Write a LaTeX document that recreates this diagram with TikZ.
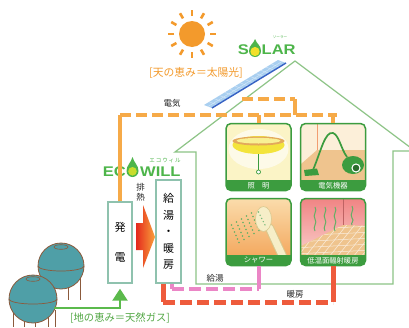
\documentclass[tikz,border=0pt]{standalone}
\usepackage{fontspec}
\setmainfont{Liberation Sans}
\newfontfamily\jpfont{Noto Sans CJK JP}
\newfontfamily\logofont{Liberation Sans}[FakeStretch=1.18]
\usetikzlibrary{calc,arrows.meta}

\definecolor{housegreen}{HTML}{8DC486}
\definecolor{tilegreen}{HTML}{3C9C3F}
\definecolor{boxgreen}{HTML}{8FC2AE}
\definecolor{elecorange}{HTML}{F6AA48}
\definecolor{sunorange}{HTML}{F39A2C}
\definecolor{hotpink}{HTML}{EB86C6}
\definecolor{heatred}{HTML}{EE5B3C}
\definecolor{gasgreen}{HTML}{5BBA4C}
\definecolor{logogreen}{HTML}{4DB54A}
\definecolor{logolime}{HTML}{C8DC2C}
\definecolor{bulbyellow}{HTML}{F2E02A}
\definecolor{tankfill}{HTML}{4F9FA7}
\definecolor{tankline}{HTML}{8B5A3C}
\definecolor{panelblue}{HTML}{A9CFF0}
\definecolor{paneledge}{HTML}{3762C4}
\definecolor{lampbg}{HTML}{FBF4C6}
\definecolor{lampyellow}{HTML}{F3E43C}
\definecolor{lamprim}{HTML}{E3A95B}
\definecolor{wallbeige}{HTML}{FCEFD9}
\definecolor{floortan}{HTML}{EFC48E}
\definecolor{showertop}{HTML}{FBE2B4}
\definecolor{showerbot}{HTML}{F29A4A}
\definecolor{cream}{HTML}{F6EEC8}
\definecolor{creamedge}{HTML}{D9C98F}
\definecolor{roomred}{HTML}{EF7C7C}
\definecolor{roomlight}{HTML}{FCE3DE}
\definecolor{arrowred}{HTML}{E42A1D}
\definecolor{arroworange}{HTML}{F9A03A}

\begin{document}
\begin{tikzpicture}[x=1pt,y=-1pt,font=\jpfont,
  houseline/.style={draw=housegreen,line width=1.2pt,line join=miter},
  unitbox/.style={draw=boxgreen,line width=1.4pt,fill=white,inner sep=0pt,align=center},
  tilebox/.style={draw=tilegreen,line width=1.5pt,rounded corners=5pt,minimum width=65pt,minimum height=67pt,inner sep=0pt},
  tilelabel/.style={text=white,font=\jpfont\fontsize{7.3}{8}\selectfont,inner sep=0pt},
  smalltext/.style={text=black!85,font=\jpfont\fontsize{8.5}{10}\selectfont,inner sep=0pt,align=center},
  elecline/.style={draw=elecorange,line width=4pt},
  elecdash/.style={elecline,dash pattern=on 11pt off 5pt},
  hotline/.style={draw=hotpink,line width=4pt},
  hotdash/.style={hotline,dash pattern=on 12pt off 5pt},
  heatline/.style={draw=heatred,line width=5pt},
  heatdash/.style={heatline,dash pattern=on 12pt off 5pt},
  gaspipe/.style={draw=gasgreen,line width=2.5pt},
  tank/.style={circle,draw=tankline,line width=0.8pt,fill=tankfill,inner sep=0pt},
  leg/.style={draw=tankline,line width=1pt},
  logotext/.style={text=logogreen,font=\logofont\bfseries\fontsize{14}{14}\selectfont,inner sep=0pt},
]
\useasboundingbox (0,0) rectangle (409,327);
\clip (0,0) rectangle (409,327);
\fill[white] (0,0) rectangle (409,327);

% ---------- sun ----------
\fill[sunorange] (192,34) circle (13);
\foreach \a in {0,30,...,330}
  \draw[sunorange,line width=2.6pt] ($(192,34)+(\a:18)$) -- ($(192,34)+(\a:24)$);
\node[text=sunorange,font=\jpfont\fontsize{10.8}{12}\selectfont,inner sep=0pt] (skylabel) at (196,73) {{[}天の恵み＝太陽光{]}};

% ---------- SOLAR logo ----------
\node[logotext,anchor=east] (solS) at (249,50) {S};
\fill[logogreen] (255,39) .. controls (256.5,44) and (261,45) .. (261,51)
  arc[start angle=0,end angle=180,radius=6] .. controls (249,45) and (253.5,44) .. cycle;
\fill[bulbyellow] (255,51.5) circle (4.6);
\node[logotext,anchor=west] (solLAR) at (261.5,50) {LAR};
\node[text=logogreen,font=\jpfont\fontsize{3.6}{4}\selectfont,inner sep=0pt] (solkana) at (280,37.5) {ソーラー};

% ---------- house outline ----------
\draw[houseline] (196,284) -- (196,152) -- (175,152) -- (295,61) -- (415,151) -- (393,151) -- (393,284) -- cycle;

% ---------- solar panel ----------
\coordinate (pA) at (212,108);
\coordinate (pB) at (286,63);
\coordinate (pC) at (278,60);
\coordinate (pD) at (204,105);
\fill[panelblue] (pA) -- (pB) -- (pC) -- (pD) -- cycle;
\foreach \t in {0.07,0.14,...,0.95}
  \draw[white!55!panelblue,line width=0.4pt] ($(pA)!\t!(pB)$) -- ($(pD)!\t!(pC)$);
\draw[white!55!panelblue,line width=0.4pt] ($(pA)!0.5!(pD)$) -- ($(pB)!0.5!(pC)$);
\draw[paneledge,line width=1.4pt] (pA) -- (pB);

% ---------- ECOWILL logo ----------
\node[logotext,anchor=east] (ecoEC) at (126,171.5) {EC};
\fill[logogreen] (132.5,157) .. controls (134,163) and (138.5,165) .. (138.5,171)
  arc[start angle=0,end angle=180,radius=6] .. controls (126.5,165) and (131,163) .. cycle;
\fill[logolime] (132.5,171.3) circle (4.3);
\node[logotext,anchor=west] (ecoWILL) at (140,171.5) {WILL};
\node[text=logogreen,font=\jpfont\fontsize{5.5}{6}\selectfont,inner sep=0pt] (ecokana) at (165,160.5) {エ\,コ\,ウ\,ィ\,ル};

% ---------- units ----------
\node[unitbox,minimum width=24pt,minimum height=81pt,font=\jpfont\fontsize{11}{30}\selectfont] (gen) at (120,242.5) {発\\電};
\node[unitbox,minimum width=25pt,minimum height=103pt,font=\jpfont\fontsize{11}{16.5}\selectfont] (hw) at (168.5,231.5) {給\\湯\\・\\暖\\房};
\node[smalltext] (exhaust) at (140.5,192) {排\\熱};

% waste heat arrow
\shade[left color=arrowred,right color=arroworange]
  (136,223) -- (143,223) -- (143,205) -- (155,237) -- (143,268) -- (143,250) -- (136,250) -- cycle;

% ---------- appliance tiles ----------
\node[tilebox,path picture={
  \begin{scope}[shift={(path picture bounding box.center)},sharp corners]
    \fill[lampbg] (-40,-40) rectangle (40,40);
    \fill[white,opacity=0.6] (0,-8) ellipse (30 and 20);
    \fill[lampyellow] (0,-12) ellipse (26 and 9);
    \fill[lamprim] (0,-16) ellipse (26 and 4.5);
    \fill[lampyellow!55!white] (0,-16.3) ellipse (22 and 2.8);
    \draw[tilegreen,line width=0.8pt] (0,-3) -- (0,13);
    \draw[tilegreen,fill=white,line width=0.7pt] (0,15) circle (2);
    \fill[tilegreen] (-40,22.5) rectangle (40,40);
  \end{scope}}] (lamp) at (258.5,157) {};
\node[tilelabel] (lampL) at ($(lamp.south)+(0,-5.8)$) {照　明};

\node[tilebox,path picture={
  \begin{scope}[shift={(path picture bounding box.center)},sharp corners]
    \fill[wallbeige] (-40,-40) rectangle (40,40);
    \fill[floortan] (-40,14) -- (-16,-7) -- (40,-7) -- (40,40) -- (-40,40) -- cycle;
    \draw[floortan!80!red,line width=0.6pt] (-16,-40) -- (-16,-7);
    \draw[tilegreen,line width=1.7pt,line cap=round] (-20,13) .. controls (-12,-6) and (-8,-26) .. (0,-24) .. controls (6,-22) and (8,-8) .. (14,0);
    \fill[tilegreen] (-29,13) -- (-16,11.5) -- (-14,18) -- (-28,19) -- cycle;
    \fill[tilegreen] (20,8) ellipse (11 and 9);
    \fill[white] (23,11) circle (4.6);
    \fill[tilegreen!70!black] (23,11) circle (3.3);
    \fill[tilegreen] (-40,22.5) rectangle (40,40);
  \end{scope}}] (vac) at (333,157) {};
\node[tilelabel] (vacL) at ($(vac.south)+(0,-5.8)$) {電気機器};

\node[tilebox,path picture={
  \begin{scope}[shift={(path picture bounding box.center)},sharp corners]
    \shade[top color=showertop,bottom color=showerbot] (-40,-40) rectangle (40,40);
    \foreach \i in {0,...,5}
      \foreach \j in {1,...,5}
        \fill[tilegreen!80] ($(-2+1.5*\i,-22+3.5*\i)+(-5*\j,3*\j)$) circle (0.9);
    \draw[creamedge,line width=9pt,line cap=round] (11,-4) -- (24,24);
    \draw[cream,line width=7pt,line cap=round] (11,-4) -- (24,24);
    \filldraw[fill=cream,draw=creamedge,line width=0.6pt,rotate around={35:(5,-13)}] (5,-13) ellipse (8 and 12.5);
    \foreach \i in {0,...,4}
      \fill[tilegreen!70] ($(0,-20)+(1.6*\i,3.2*\i)$) circle (0.8);
    \fill[tilegreen] (-40,23) rectangle (40,40);
  \end{scope}}] (shower) at (258.5,232) {};
\node[tilelabel] (showerL) at ($(shower.south)+(0,-5.8)$) {シャワー};

\node[tilebox,path picture={
  \begin{scope}[shift={(path picture bounding box.center)},sharp corners]
    \shade[top color=roomred,bottom color=roomlight] (-40,-40) rectangle (40,40);
    \draw[roomred!80!black,line width=0.5pt] (10,-40) -- (10,-7);
    \begin{scope}
      \clip (-40,18) -- (10,-7) -- (40,-6) -- (40,40) -- (-40,40) -- cycle;
      \fill[floortan] (-40,-40) rectangle (40,40);
      \foreach \k in {0,...,6}
        \draw[white!70!floortan,line width=0.5pt] (-40,-2+\k*6) -- (40,-6+\k*6);
      \foreach \k in {-8,...,6}
        \draw[white!70!floortan,line width=0.5pt] (\k*8,40) -- (\k*8+40,-10);
    \end{scope}
    \foreach \x in {-18,-8,2}
      \draw[tilegreen!80,line width=1pt] (\x,-25) .. controls (\x+3,-21) and (\x-3,-17) .. (\x,-13) .. controls (\x+3,-9) and (\x-3,-5) .. (\x,-1);
    \draw[tilegreen!80,line width=1pt] (19,-26) .. controls (22,-22) and (16,-18) .. (19,-14) .. controls (22,-11) and (17,-9) .. (19,-7);
    \fill[tilegreen] (-40,23) rectangle (40,40);
  \end{scope}}] (floor) at (333,232) {};
\node[tilelabel] (floorL) at ($(floor.south)+(0,-5.8)$) {低温面輻射暖房};

% ---------- electricity ----------
\coordinate (roofTap) at (242,99);
\coordinate (roofDrop) at (295,99);
\coordinate (busL) at (120,115);
\coordinate (busR) at (337,115);
\draw[elecline] (gen.north) -- (busL);
\draw[elecdash] (busL) -- (busR);
\draw[elecdash] (roofTap) -- (roofDrop);
\draw[elecline] (roofDrop) -- (roofDrop |- busL);
\draw[elecline] (lamp.north |- busL) -- (lamp.north);
\draw[elecline] (vac.north |- busL) -- (vac.north);
\node[smalltext] (elecL) at (172,103) {電気};

% ---------- hot water and heating ----------
\coordinate (hotOut) at ($(hw.south)+(3.5,0)$);
\coordinate (heatOut) at ($(hw.south)+(-5.5,0)$);
\coordinate (hotCorner) at (172,289);
\coordinate (heatCorner) at (163,302);
\draw[hotline] (hotOut) -- (hotCorner);
\draw[hotdash] (hotCorner) -- (hotCorner -| shower.south);
\draw[hotline] (hotCorner -| shower.south) -- (shower.south);
\draw[heatline] (heatOut) -- (heatCorner);
\draw[heatdash] (heatCorner) -- (heatCorner -| floor.south);
\draw[heatline] (heatCorner -| floor.south) -- (floor.south);
\node[smalltext] (hotL) at (215,278) {給湯};
\node[smalltext] (heatL) at (295,294) {暖房};

% ---------- gas tanks ----------
\foreach \x in {41,53,68,80} \draw[leg] (\x,278) -- (\x,300);
\node[tank,minimum size=46pt] (tankA) at (61,266) {};
\draw[tankline,line width=0.7pt] (38,266) arc[start angle=180,end angle=0,x radius=23,y radius=5];
\draw[tankline,line width=0.6pt] (61,247) ellipse (7 and 2.3);
\foreach \x in {13,24,35,48,55} \draw[leg] (\x,310) -- (\x,327);
\node[tank,minimum size=48pt] (tankB) at (33,299) {};
\draw[tankline,line width=0.7pt] (9,299) arc[start angle=180,end angle=0,x radius=24,y radius=5];
\draw[tankline,line width=0.6pt] (33,279) ellipse (7 and 2.3);

% gas supply
\coordinate (gasStart) at (54,308);
\draw[gaspipe,-{Triangle[width=15pt,length=12pt]}] (gasStart) -| ($(gen.south)+(0,5)$);
\node[text=gasgreen!90!black,font=\jpfont\fontsize{10.3}{12}\selectfont,inner sep=0pt] (earthlabel) at (120,318) {{[}地の恵み＝天然ガス{]}};
\end{tikzpicture}
\end{document}
